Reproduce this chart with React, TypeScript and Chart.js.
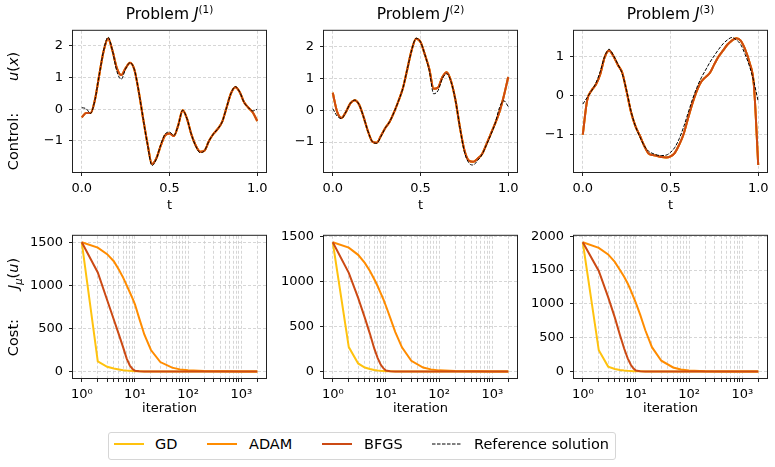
import React, { useEffect, useRef } from 'react';
import { Chart, registerables } from 'chart.js';

Chart.register(...registerables);

const FONT_FAMILY = "'DejaVu Sans', sans-serif";

// ---------- top row: control u(x) sampled on t ----------
const T = [0, 0.025, 0.05, 0.075, 0.1, 0.125, 0.15, 0.175, 0.2, 0.225, 0.25, 0.275, 0.3, 0.325, 0.35, 0.375, 0.4, 0.425, 0.45, 0.475, 0.5, 0.525, 0.55, 0.575, 0.6, 0.625, 0.65, 0.675, 0.7, 0.725, 0.75, 0.775, 0.8, 0.825, 0.85, 0.875, 0.9, 0.925, 0.95, 0.975, 1.0];

const p1Solution = [-0.25, -0.12, -0.12, 0.3, 1.1, 1.85, 2.24, 1.85, 1.3, 1.08, 1.3, 1.47, 1.25, 0.55, -0.3, -1.1, -1.73, -1.55, -1.15, -0.82, -0.76, -0.84, -0.5, -0.03, -0.3, -0.8, -1.15, -1.34, -1.3, -1.0, -0.78, -0.62, -0.4, 0.05, 0.5, 0.7, 0.55, 0.22, 0.05, -0.1, -0.37];
const p1Reference = [0.05, 0.02, -0.13, 0.3, 1.1, 1.87, 2.28, 1.85, 1.2, 0.95, 1.28, 1.47, 1.25, 0.55, -0.3, -1.12, -1.78, -1.57, -1.12, -0.78, -0.72, -0.82, -0.5, -0.03, -0.3, -0.8, -1.17, -1.37, -1.3, -1.0, -0.78, -0.62, -0.4, 0.05, 0.5, 0.72, 0.55, 0.22, 0.05, -0.05, 0.0];

const p2Solution = [0.55, -0.05, -0.24, -0.05, 0.22, 0.32, 0.18, -0.2, -0.65, -0.98, -1.02, -0.8, -0.55, -0.35, -0.05, 0.3, 0.7, 1.3, 1.9, 2.25, 2.15, 1.75, 1.3, 0.68, 0.72, 1.05, 1.2, 0.9, 0.3, -0.55, -1.25, -1.58, -1.62, -1.52, -1.38, -1.08, -0.75, -0.42, -0.05, 0.45, 1.05];
const p2Reference = [0.05, -0.18, -0.26, -0.05, 0.22, 0.32, 0.18, -0.2, -0.65, -0.98, -1.04, -0.82, -0.55, -0.35, -0.05, 0.3, 0.7, 1.3, 1.9, 2.27, 2.15, 1.75, 1.25, 0.52, 0.62, 1.0, 1.15, 0.88, 0.3, -0.55, -1.3, -1.65, -1.72, -1.58, -1.4, -1.1, -0.78, -0.42, 0.08, 0.3, 0.12];

const p3Solution = [-1.0, -0.12, 0.13, 0.28, 0.55, 0.98, 1.15, 1.0, 0.78, 0.58, 0.1, -0.42, -0.78, -1.02, -1.28, -1.48, -1.52, -1.54, -1.57, -1.58, -1.55, -1.46, -1.25, -0.98, -0.58, -0.2, 0.12, 0.35, 0.47, 0.58, 0.8, 1.0, 1.15, 1.3, 1.4, 1.46, 1.4, 1.18, 0.85, 0.28, -1.77];
const p3Reference = [-0.22, -0.05, 0.12, 0.32, 0.62, 1.0, 1.18, 1.02, 0.8, 0.55, 0.12, -0.4, -0.78, -1.05, -1.28, -1.42, -1.48, -1.52, -1.53, -1.52, -1.45, -1.32, -1.1, -0.8, -0.45, -0.1, 0.2, 0.45, 0.65, 0.85, 1.02, 1.18, 1.32, 1.42, 1.48, 1.42, 1.3, 1.05, 0.75, 0.35, -0.15];

// ---------- bottom row: cost vs iteration ----------
const ITER = [1, 2, 3, 4, 5, 6, 7, 8, 9, 10, 12, 15, 20, 30, 50, 70, 100, 200, 500, 1000, 2000];

const c1GD = [1500, 118, 55, 35, 24, 16, 11, 8, 6, 4, 2.5, 1.5, 1, 0.5, 0.2, 0.1, 0, 0, 0, 0, 0];
const c1ADAM = [1500, 1438, 1362, 1280, 1180, 1090, 1000, 920, 850, 780, 620, 430, 250, 110, 45, 25, 14, 5, 2, 1, 0.5];
const c1BFGS = [1500, 1149, 830, 604, 429, 280, 150, 70, 30, 10, 3, 1, 0.5, 0.2, 0.1, 0, 0, 0, 0, 0, 0];

const c2GD = [1440, 272, 90, 45, 28, 18, 12, 8, 6, 4, 2.5, 1.5, 1, 0.5, 0.2, 0.1, 0, 0, 0, 0, 0];
const c2ADAM = [1440, 1380, 1300, 1210, 1120, 1030, 950, 870, 800, 730, 600, 440, 270, 120, 45, 24, 13, 5, 2, 1, 0.5];
const c2BFGS = [1440, 1100, 820, 600, 420, 260, 150, 75, 35, 12, 3, 1, 0.5, 0.2, 0.1, 0, 0, 0, 0, 0, 0];

const c3GD = [1910, 314, 73, 38, 24, 16, 11, 8, 6, 4, 2.5, 1.5, 1, 0.5, 0.2, 0.1, 0, 0, 0, 0, 0];
const c3ADAM = [1910, 1828, 1730, 1620, 1500, 1400, 1300, 1200, 1100, 1010, 840, 610, 360, 160, 60, 30, 15, 6, 2, 1, 0.5];
const c3BFGS = [1910, 1487, 1100, 800, 540, 340, 195, 100, 45, 15, 3, 1, 0.5, 0.2, 0.1, 0, 0, 0, 0, 0, 0];

// ---------- ticks ----------
const T_TICKS = [0, 0.5, 1];
const LOG_TICKS = [1, 2, 3, 4, 5, 6, 7, 8, 9, 10, 20, 30, 40, 50, 60, 70, 80, 90, 100, 200, 300, 400, 500, 600, 700, 800, 900, 1000, 2000];
const LOG_LABELS: Record<number, string> = { 1: '10\u2070', 10: '10\u00B9', 100: '10\u00B2', 1000: '10\u00B3' };
const U1_TICKS = [-1, 0, 1, 2];
const U2_TICKS = [-1, 0, 1, 2];
const U3_TICKS = [-1, 0, 1];
const COST12_TICKS = [0, 500, 1000, 1500];
const COST3_TICKS = [0, 500, 1000, 1500, 2000];

const TITLES = ['(1)', '(2)', '(3)'];
const LEGEND_LABELS = ['GD', 'ADAM', 'BFGS', 'Reference solution'];

const COLORS = { GD: '#FFC20E', ADAM: '#FF8C00', BFGS: '#CC4A14', REF: '#000000' };
const GRID_COLOR = '#cccccc';
const AXIS_COLOR = '#222222';

// ---------- geometry ----------
const COL_X = [73, 324, 574];
const PLOT_W = 193;
const TOP_Y = 29;
const TOP_H = 143;
const BOT_Y = 234;
const BOT_H = 144;
const Y_AXIS_W = 55;
const PAD_TOP = 12;
const PAD_RIGHT = 8;
const X_AXIS_H = 42;

const framePlugin = {
  id: 'frame',
  afterDatasetsDraw(chart: any) {
    const { ctx, chartArea: a } = chart;
    ctx.save();
    ctx.strokeStyle = AXIS_COLOR;
    ctx.lineWidth = 1;
    ctx.setLineDash([]);
    ctx.strokeRect(a.left - 0.5, a.top - 0.5, a.right - a.left + 1, a.bottom - a.top + 1);
    ctx.restore();
  },
};

function pts(xs: number[], ys: number[]) {
  return xs.map((x, i) => ({ x, y: ys[i] }));
}

function ds(label: string, xs: number[], ys: number[], color: string, width: number, dash: number[] = [], smooth = false) {
  return {
    label,
    data: pts(xs, ys),
    borderColor: color,
    backgroundColor: color,
    borderWidth: width,
    borderDash: dash,
    pointRadius: 0,
    fill: false,
    cubicInterpolationMode: smooth ? 'monotone' : 'default',
    tension: 0,
  };
}

function fmtNum(v: number) {
  return v < 0 ? '\u2212' + Math.abs(v) : String(v);
}

function makeConfig(o: any) {
  const tickFont = { family: FONT_FAMILY, size: 13 };
  return {
    type: 'line',
    data: { datasets: o.datasets },
    options: {
      responsive: false,
      animation: false,
      events: [],
      layout: { padding: { top: PAD_TOP, right: PAD_RIGHT, left: 0, bottom: 0 } },
      plugins: { legend: { display: false }, tooltip: { enabled: false }, title: { display: false } },
      scales: {
        x: {
          type: o.xType,
          min: o.xMin,
          max: o.xMax,
          afterBuildTicks: (s: any) => { s.ticks = o.xTicks.map((v: number) => ({ value: v })); },
          afterFit: (s: any) => { s.height = X_AXIS_H; },
          ticks: { autoSkip: false, maxRotation: 0, minRotation: 0, padding: 5, color: '#000', font: tickFont, callback: (v: number) => o.xFormat(v) },
          grid: { color: GRID_COLOR, lineWidth: 0.8, tickColor: AXIS_COLOR, tickLength: 4, tickWidth: 1, drawTicks: true },
          border: { display: false, dash: [3, 2] },
          title: { display: true, text: o.xLabel, color: '#000', font: tickFont, padding: { top: 0, bottom: o.titlePad } },
        },
        y: {
          type: 'linear',
          min: o.yMin,
          max: o.yMax,
          afterBuildTicks: (s: any) => { s.ticks = o.yTicks.map((v: number) => ({ value: v })); },
          afterFit: (s: any) => { s.width = Y_AXIS_W; },
          ticks: { autoSkip: false, padding: 6, color: '#000', font: tickFont, callback: (v: number) => fmtNum(v) },
          grid: { color: GRID_COLOR, lineWidth: 0.8, tickColor: AXIS_COLOR, tickLength: 4, tickWidth: 1, drawTicks: true },
          border: { display: false, dash: [3, 2] },
        },
      },
    },
    plugins: [framePlugin],
  };
}

function controlConfig(sol: number[], ref: number[], yMin: number, yMax: number, yTicks: number[]) {
  return makeConfig({
    datasets: [
      ds('Reference solution', T, ref, COLORS.REF, 1, [3.5, 1.5], true),
      ds('BFGS', T, sol, COLORS.BFGS, 2, [], true),
      ds('ADAM', T, sol, COLORS.ADAM, 2, [], true),
      ds('GD', T, sol, COLORS.GD, 2, [], true),
    ],
    xType: 'linear', xMin: -0.05, xMax: 1.05, xTicks: T_TICKS, xFormat: (v: number) => v.toFixed(1), xLabel: 't', titlePad: 1,
    yMin, yMax, yTicks,
  });
}

function costConfig(gd: number[], adam: number[], bfgs: number[], yMin: number, yMax: number, yTicks: number[]) {
  return makeConfig({
    datasets: [
      ds('BFGS', ITER, bfgs, COLORS.BFGS, 2),
      ds('ADAM', ITER, adam, COLORS.ADAM, 2),
      ds('GD', ITER, gd, COLORS.GD, 2),
    ],
    xType: 'logarithmic', xMin: Math.pow(10, -0.165), xMax: Math.pow(10, 3.465), xTicks: LOG_TICKS,
    xFormat: (v: number) => LOG_LABELS[v] ?? '', xLabel: 'iteration', titlePad: 4,
    yMin, yMax, yTicks,
  });
}

function Panel({ plotX, plotY, plotH, config }: any) {
  const ref = useRef<HTMLCanvasElement>(null);
  const w = Y_AXIS_W + PLOT_W + PAD_RIGHT;
  const h = PAD_TOP + plotH + X_AXIS_H;
  useEffect(() => {
    const chart = new Chart(ref.current as HTMLCanvasElement, config);
    return () => chart.destroy();
  }, []);
  return (
    <canvas
      ref={ref}
      width={w}
      height={h}
      style={{ position: 'absolute', left: plotX - Y_AXIS_W, top: plotY - PAD_TOP, width: w, height: h }}
    />
  );
}

function LegendLine({ x, color, dashed }: any) {
  return (
    <svg width={32} height={6} style={{ position: 'absolute', left: x, top: 441 }}>
      <line x1={0} y1={3} x2={30} y2={3} stroke={color} strokeWidth={dashed ? 1 : 2} strokeDasharray={dashed ? '3.5 1.5' : undefined} />
    </svg>
  );
}

export default function App() {
  const configs = [
    controlConfig(p1Solution, p1Reference, -1.98, 2.48, U1_TICKS),
    controlConfig(p2Solution, p2Reference, -1.94, 2.5, U2_TICKS),
    controlConfig(p3Solution, p3Reference, -1.95, 1.65, U3_TICKS),
    costConfig(c1GD, c1ADAM, c1BFGS, -75, 1575, COST12_TICKS),
    costConfig(c2GD, c2ADAM, c2BFGS, -72, 1512, COST12_TICKS),
    costConfig(c3GD, c3ADAM, c3BFGS, -95.5, 2005.5, COST3_TICKS),
  ];
  const legendLineX = [114, 207, 322, 432];
  const legendTextX = [155, 249, 364, 474];
  const legendColors = [COLORS.GD, COLORS.ADAM, COLORS.BFGS, COLORS.REF];
  return (
    <div style={{ position: 'fixed', left: 0, top: 0, width: 775, height: 467, background: '#fff', overflow: 'hidden', fontFamily: FONT_FAMILY, color: '#000' }}>
      {configs.map((c, i) => (
        <Panel key={i} plotX={COL_X[i % 3]} plotY={i < 3 ? TOP_Y : BOT_Y} plotH={i < 3 ? TOP_H : BOT_H} config={c} />
      ))}
      {TITLES.map((t, i) => (
        <div key={'t' + i} style={{ position: 'absolute', left: COL_X[i], top: 5, width: PLOT_W, textAlign: 'center', fontSize: 15.5, lineHeight: '18px', whiteSpace: 'nowrap' }}>
          Problem <i>J</i><span style={{ fontSize: 10.5, position: 'relative', top: -6 }}>{t}</span>
        </div>
      ))}
      <div style={{ position: 'absolute', left: 13, top: 111, transform: 'translate(-50%, -50%) rotate(-90deg)', fontSize: 14.5, lineHeight: '18px', whiteSpace: 'nowrap' }}>
        Control:<span style={{ display: 'inline-block', width: 32 }} /><i>u</i>(<i>x</i>)
      </div>
      <div style={{ position: 'absolute', left: 13, top: 307, transform: 'translate(-50%, -50%) rotate(-90deg)', fontSize: 14.5, lineHeight: '18px', whiteSpace: 'nowrap' }}>
        Cost:<span style={{ display: 'inline-block', width: 30 }} /><i>J</i><sub style={{ fontSize: 10, lineHeight: 0 }}><i>μ</i></sub>(<i>u</i>)
      </div>
      <div style={{ position: 'absolute', left: 108, top: 432, width: 508, height: 28, boxSizing: 'border-box', border: '1px solid #d6d6d6', borderRadius: 3 }} />
      {LEGEND_LABELS.map((l, i) => (
        <React.Fragment key={'l' + i}>
          <LegendLine x={legendLineX[i]} color={legendColors[i]} dashed={i === 3} />
          <div style={{ position: 'absolute', left: legendTextX[i], top: 435, fontSize: 14.5, lineHeight: '18px', whiteSpace: 'nowrap' }}>{l}</div>
        </React.Fragment>
      ))}
    </div>
  );
}
